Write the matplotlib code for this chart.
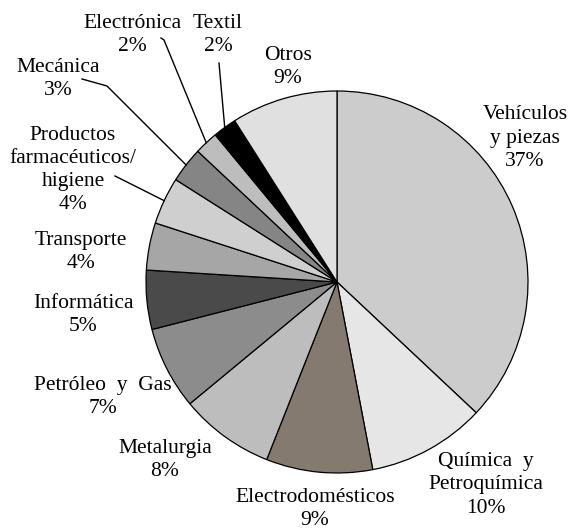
import numpy as np
import matplotlib
matplotlib.use("Agg")
import matplotlib.pyplot as plt

# --- data ---
labels = ["Vehículos\ny piezas", "Química  y\nPetroquímica", "Electrodomésticos",
          "Metalurgia", "Petróleo  y  Gas", "Informática", "Transporte",
          "Productos\nfarmacéuticos/\nhigiene", "Mecánica", "Electrónica",
          "Textil", "Otros"]
shares = [37, 10, 9, 8, 7, 5, 4, 4, 3, 2, 2, 9]
colors = ["#cccccc", "#e6e6e6", "#857a70", "#bdbdbd", "#8c8c8c", "#4a4a4a",
          "#a6a6a6", "#cfcfcf", "#858585", "#bdbdbd", "#000000", "#e0e0e0"]

# label anchor points in pixel space (x, y from top)
label_pos = [(525, 138), (486, 485), (315, 509), (165, 460), (103, 397),
             (83, 315), (81, 252), (73, 170), (58, 79), (132, 35),
             (218, 35), (288, 67)]
# leader lines: start and optional elbow, ending on the wedge edge
leaders = {8: [(82, 79), (107, 86)],
           7: [(115, 176)],
           9: [(161, 38), (164, 40)],
           10: [(219, 63)]}

W, H = 571, 529
CX, CY, R = 337, 282, 191

plt.rcParams["font.family"] = ["Liberation Serif", "DejaVu Serif"]
fig = plt.figure(figsize=(W / 100, H / 100), dpi=100)
ax = fig.add_axes([0, 0, 1, 1])
ax.axis("off")

wedges, _ = ax.pie(shares, colors=colors, startangle=90, counterclock=False,
                   center=(CX, H - CY), radius=R,
                   wedgeprops=dict(edgecolor="black", linewidth=0.9))
ax.set_xlim(0, W)
ax.set_ylim(0, H)
ax.set_aspect("equal")

for i, (lab, s) in enumerate(zip(labels, shares)):
    x, y = label_pos[i]
    ax.text(x, H - y, f"{lab}\n{s}%", ha="center", va="center",
            fontsize=15.5, linespacing=1.3, color="black")

for i, pts in leaders.items():
    w = wedges[i]
    mid = np.deg2rad((w.theta1 + w.theta2) / 2)
    end = (CX + R * np.cos(mid), H - CY + R * np.sin(mid))
    xs = [p[0] for p in pts] + [end[0]]
    ys = [H - p[1] for p in pts] + [end[1]]
    ax.plot(xs, ys, color="black", linewidth=1.0)

fig.savefig("out.png", dpi=100, facecolor="white")
